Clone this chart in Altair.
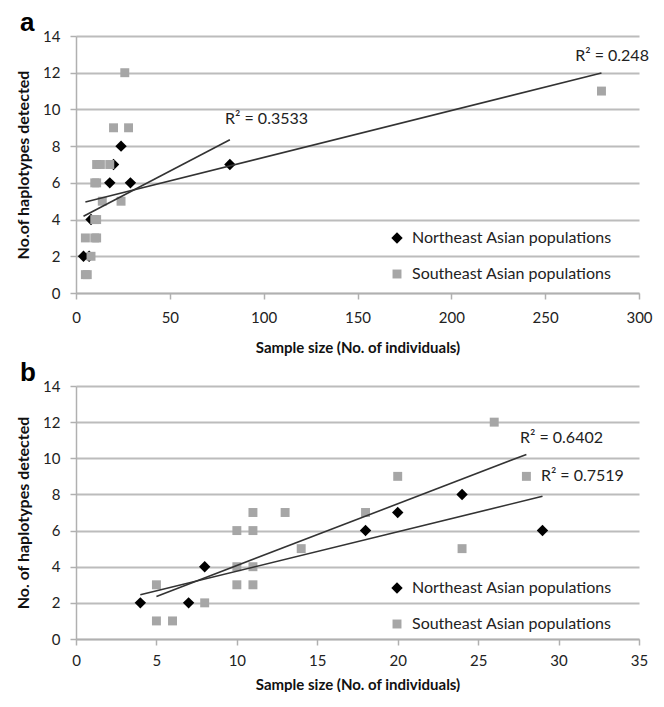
import altair as alt
import pandas as pd

# ---- data ----
groups = ["Northeast Asian populations", "Southeast Asian populations"]

# panel b (small samples)
ne_size = [4, 7, 8, 18, 20, 24, 29]
ne_haplo = [2, 2, 4, 6, 7, 8, 6]
se_size = [5, 5, 6, 8, 10, 10, 10, 11, 11, 11, 11, 13, 14, 18, 20, 24, 26, 28]
se_haplo = [3, 1, 1, 2, 6, 4, 3, 7, 6, 4, 3, 7, 5, 7, 9, 5, 12, 9]

# extra (large-sample) populations present only in panel a
ne_extra_size = [82]
ne_extra_haplo = [7]
se_extra_size = [280]
se_extra_haplo = [11]

r2_text_a = ["R\u00b2 = 0.248", "R\u00b2 = 0.3533"]
r2_x_a = [266, 79.4]
r2_y_a = [12.9, 9.5]
r2_text_b = ["R\u00b2 = 0.6402", "R\u00b2 = 0.7519"]
r2_x_b = [27.6, 28.9]
r2_y_b = [11.1, 9.04]

y_ticks = [0, 2, 4, 6, 8, 10, 12, 14]
x_ticks_a = [0, 50, 100, 150, 200, 250, 300]
x_ticks_b = [0, 5, 10, 15, 20, 25, 30, 35]


def frame(nx, ny, sx, sy):
    return pd.DataFrame({
        "x": list(nx) + list(sx),
        "y": list(ny) + list(sy),
        "pop": [groups[0]] * len(nx) + [groups[1]] * len(sx),
    })


df_a = frame(ne_size + ne_extra_size, ne_haplo + ne_extra_haplo,
             se_size + se_extra_size, se_haplo + se_extra_haplo)
df_b = frame(ne_size, ne_haplo, se_size, se_haplo)

FONT = "Lato"


def panel(df, xmax, xticks, height, ytitle, letter, r2t, r2x, r2y, lx, ly, lpad, tpad):
    xenc = alt.X("x:Q", scale=alt.Scale(domain=[0, xmax], nice=False, zero=True),
                 axis=alt.Axis(values=xticks, title="Sample size (No. of individuals)",
                               grid=False, labelFlush=False, labelPadding=lpad,
                               titlePadding=tpad))
    yenc = alt.Y("y:Q", scale=alt.Scale(domain=[0, 14], nice=False),
                 axis=alt.Axis(values=y_ticks, title=ytitle, grid=True))
    base = alt.Chart(df)
    points = base.mark_point(filled=True, opacity=1, strokeWidth=0).encode(
        x=xenc, y=yenc,
        color=alt.Color("pop:N", scale=alt.Scale(domain=groups, range=["#000000", "#a6a6a6"]),
                        legend=alt.Legend(orient="none", legendX=lx, legendY=ly, title=None,
                                          labelFont=FONT, labelFontSize=16, labelColor="#222222",
                                          labelLimit=400, rowPadding=20, labelOffset=7,
                                          padding=0, symbolStrokeWidth=0)),
        shape=alt.Shape("pop:N", scale=alt.Scale(domain=groups, range=["diamond", "square"])),
        size=alt.Size("pop:N", scale=alt.Scale(domain=groups, range=[130, 80])),
    )
    lines = base.transform_regression("x", "y", groupby=["pop"]).mark_line(
        color="#333333", strokeWidth=1.6
    ).encode(x=xenc, y=yenc, detail="pop:N")
    ann = alt.Chart(pd.DataFrame({"x": r2x, "y": r2y, "t": r2t})).mark_text(
        align="left", baseline="middle", font=FONT, fontSize=16, color="#222222"
    ).encode(x=xenc, y=yenc, text="t:N")
    lab = alt.Chart(pd.DataFrame({"t": [letter]})).mark_text(
        align="left", baseline="alphabetic", font="Liberation Sans", fontSize=26,
        fontWeight="bold", color="#000000"
    ).encode(x=alt.value(-56), y=alt.value(-5), text="t:N")
    return alt.layer(points, lines, ann, lab).properties(width=563, height=height)


pa = panel(df_a, 300, x_ticks_a, 257, "No.of haplotypes detected", "a",
           r2_text_a, r2_x_a, r2_y_a, 313, 194, 11, 15)
pb = panel(df_b, 35, x_ticks_b, 253, "No. of haplotypes detected", "b",
           r2_text_b, r2_x_b, r2_y_b, 313, 194, 8, 9)

chart = alt.vconcat(pa, pb, spacing=93, bounds="flush").resolve_scale(
    x="independent", y="independent", color="independent", shape="independent",
    size="independent"
).properties(
    padding={"left": 7, "top": 2, "right": 1, "bottom": 0}
).configure_axis(
    labelFont=FONT, labelFontSize=15, labelColor="#222222",
    titleFont=FONT, titleFontWeight="bold", titleColor="#111111",
    domainColor="#b0b0b0", domainWidth=1.5, tickColor="#b0b0b0", tickWidth=1.5,
    gridColor="#bcbcbc", gridWidth=2,
).configure_axisX(
    titleFontSize=15, tickSize=6,
).configure_axisY(
    titleFontSize=16, tickSize=6, labelPadding=10, titlePadding=11,
).configure_view(stroke=None)

chart.save("out.html", embed_options={"renderer": "svg", "actions": False})
